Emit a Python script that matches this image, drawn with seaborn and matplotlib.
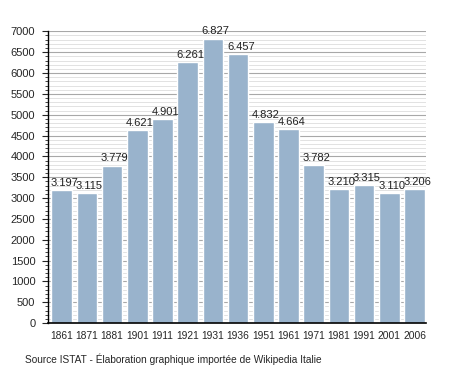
import matplotlib
matplotlib.use("Agg")
import matplotlib.pyplot as plt
import seaborn as sns
import pandas as pd
from matplotlib.ticker import MultipleLocator

years = ["1861", "1871", "1881", "1901", "1911", "1921", "1931", "1936",
         "1951", "1961", "1971", "1981", "1991", "2001", "2006"]
population = [3197, 3115, 3779, 4621, 4901, 6261, 6827, 6457,
              4832, 4664, 3782, 3210, 3315, 3110, 3206]
value_labels = ["3.197", "3.115", "3.779", "4.621", "4.901", "6.261", "6.827", "6.457",
                "4.832", "4.664", "3.782", "3.210", "3.315", "3.110", "3.206"]
source_text = "Source ISTAT - Élaboration graphique importée de Wikipedia Italie"

sns.set_style("white")
plt.rcParams['font.family'] = ['Liberation Sans', 'DejaVu Sans']

df = pd.DataFrame({"year": years, "pop": population})

fig = plt.figure(figsize=(4.55, 3.73), dpi=100)
ax = fig.add_axes([0.105, 0.134, 0.831, 0.782])

ax.yaxis.set_major_locator(MultipleLocator(500))
ax.yaxis.set_minor_locator(MultipleLocator(100))
ax.grid(which="minor", axis="y", color="#e2e2e2", linewidth=0.7, zorder=0)
ax.grid(which="major", axis="y", color="#a8a8a8", linewidth=0.8, zorder=0)
ax.set_axisbelow(True)

sns.barplot(data=df, x="year", y="pop", color="#99b3cc", saturation=1,
            width=0.82, ax=ax, zorder=2)

for i, (v, lab) in enumerate(zip(population, value_labels)):
    ax.text(i - 0.44, v + 50, lab, ha="left", va="bottom", fontsize=8, color="#222222")

ax.set_ylim(0, 7000)
ax.set_xlim(-0.55, 14.45)
ax.set_xlabel("")
ax.set_ylabel("")
for s in ["top", "right"]:
    ax.spines[s].set_visible(False)
ax.spines["left"].set_color("black")
ax.spines["bottom"].set_color("black")
ax.spines["left"].set_linewidth(1)
ax.spines["bottom"].set_linewidth(1.2)
ax.tick_params(axis="y", which="major", left=True, length=4, width=0.8, labelsize=8, pad=5)
ax.tick_params(axis="y", which="minor", left=True, length=2, width=0.6)
ax.tick_params(axis="x", bottom=False, labelsize=7.4, pad=2)

fig.text(0.055, 0.022, source_text, fontsize=7.3, ha="left", va="bottom")

fig.savefig("out.png", dpi=100)
